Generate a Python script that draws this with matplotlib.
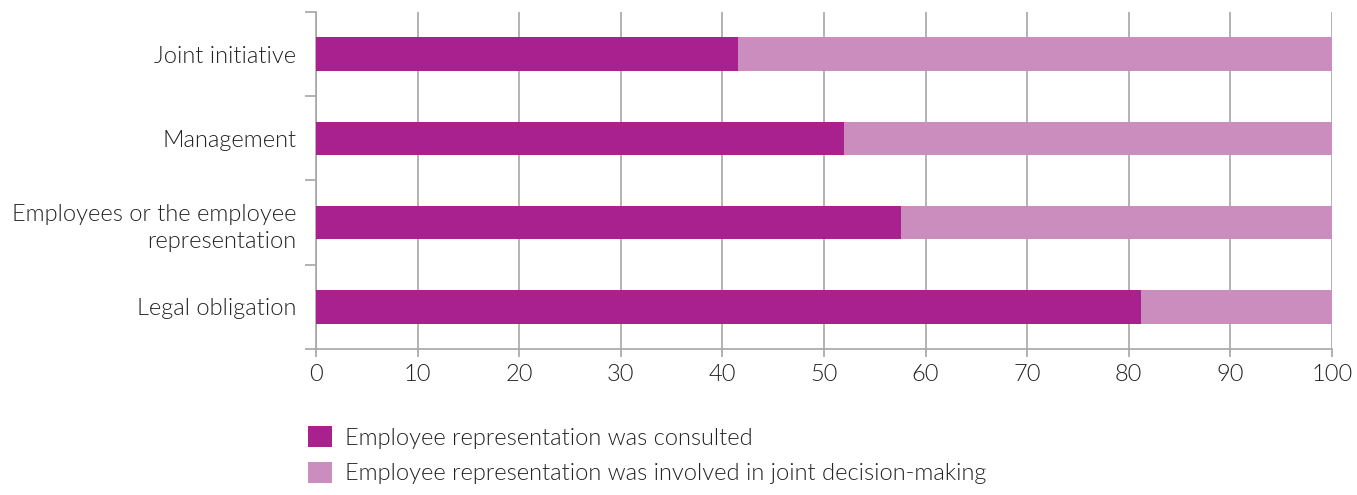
import matplotlib.pyplot as plt
from matplotlib.patches import Patch

plt.rcParams['font.family'] = ['Lato', 'DejaVu Sans']
plt.rcParams['font.weight'] = 300

categories = ['Legal obligation', 'Employees or the employee\nrepresentation',
              'Management', 'Joint initiative']
consulted = [81.2, 57.6, 52.0, 41.5]
joint = [100 - v for v in consulted]
series_names = ['Employee representation was consulted',
                'Employee representation was involved in joint decision-making']
colors = ['#A8218E', '#CA8DBE']
text_col = '#222222'
grey = '#A6A6A6'

fig = plt.figure(figsize=(13.57, 4.95), dpi=100)
ax = fig.add_axes([316/1357, 1 - 349/495, (1332 - 316)/1357, (349 - 12)/495])

y = range(len(categories))
ax.barh(y, consulted, height=0.4, color=colors[0], zorder=3)
ax.barh(y, joint, left=consulted, height=0.4, color=colors[1], zorder=3)

ax.set_xlim(0, 100)
ax.set_ylim(-0.5, len(categories) - 0.5)
ax.set_xticks(range(0, 101, 10))
ax.set_yticks(list(y))
ax.set_yticklabels(categories, linespacing=1.4)
ax.set_yticks([i - 0.5 for i in range(len(categories) + 1)], minor=True)
ax.tick_params(axis='y', which='major', length=0, pad=14, labelsize=17,
               labelcolor=text_col)
ax.tick_params(axis='y', which='minor', length=8, color=grey, width=1.2)
ax.tick_params(axis='x', length=6, color=grey, width=1.2, labelsize=17,
               labelcolor=text_col, pad=5)
ax.grid(axis='x', color=grey, linewidth=1.2, zorder=0)
for s in ['top', 'right']:
    ax.spines[s].set_visible(False)
for s in ['left', 'bottom']:
    ax.spines[s].set_color(grey)
    ax.spines[s].set_linewidth(1.2)
for lab in ax.get_yticklabels():
    lab.set_horizontalalignment('right')
    lab.set_multialignment('right')

handles = [Patch(facecolor=c, edgecolor='none') for c in colors]
fig.legend(handles, series_names, loc='upper left',
           bbox_to_anchor=(308/1357, 1 - 426/495), frameon=False,
           fontsize=17, labelcolor=text_col, handlelength=1.0,
           handleheight=1.0, handletextpad=0.55, labelspacing=0.55,
           borderpad=0, borderaxespad=0)

fig.savefig('out.png', dpi=100)
